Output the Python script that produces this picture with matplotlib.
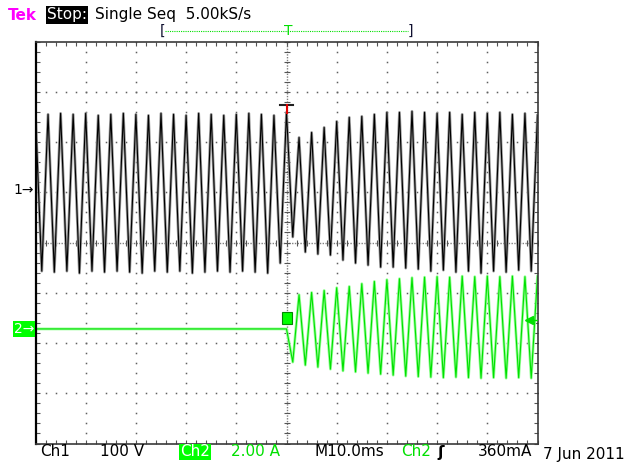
import matplotlib
matplotlib.use('Agg')
import matplotlib.pyplot as plt
import numpy as np

W, H = 641, 462

# ---- data ------------------------------------------------------------
# horizontal: M 10.0 ms/div, 10 divisions, trigger at 50 ms
half_period_ms = 1.25
trig_ms = 50.0

# Ch1, 100 V/div: crest values (V) at t = 0, 2.5, ... 100 ms
ch1_peaks_v = [150, 152, 154, 152, 154, 150, 152, 154, 152, 150,
               154, 152, 150, 154, 152, 150, 152, 154, 152, 150,
               156, 106, 116, 126, 138, 146, 148, 152, 156, 156,
               158, 156, 154, 156, 152, 156, 154, 156, 152, 154, 150]
# Ch1 trough values (V) at t = 1.25, 3.75, ... 98.75 ms
ch1_troughs_v = [-160, -162, -160, -164, -160, -162, -160, -162, -164, -160,
                 -162, -160, -164, -162, -160, -162, -160, -162, -164, -144,
                 -92, -122, -126, -128, -138, -144, -148, -152, -152, -154,
                 -156, -160, -158, -162, -160, -164, -160, -162, -158, -160]

# Ch2, 2.00 A/div: zero before the trigger, then growing
ch2_troughs_a = [-1.32, -1.44, -1.52, -1.60, -1.67, -1.71, -1.76, -1.80, -1.84, -1.88,
                 -1.90, -1.92, -1.94, -1.92, -1.94, -1.96, -1.94, -1.96, -1.94, -1.96]
ch2_peaks_a = [1.36, 1.45, 1.53, 1.64, 1.69, 1.80, 1.89, 1.96, 2.00, 2.04,
               2.06, 2.08, 2.06, 2.10, 2.08, 2.10, 2.08, 2.10, 2.08, 2.10]

ch1_scale, ch2_scale = 100.0, 2.0      # per division
ch1_pos, ch2_pos = 1.03, -1.72         # ground marker positions (div)
trig_level_a = 0.36

# ---- build the traces -------------------------------------------------
t1 = np.arange(len(ch1_peaks_v) + len(ch1_troughs_v)) * half_period_ms
v1 = np.empty(len(t1))
v1[0::2] = ch1_peaks_v
v1[1::2] = ch1_troughs_v

n2 = len(ch2_peaks_a) + len(ch2_troughs_a)
t2 = np.concatenate([[0.0, trig_ms], trig_ms + (np.arange(n2) + 1) * half_period_ms])
i2 = np.empty(n2)
i2[0::2] = ch2_troughs_a
i2[1::2] = ch2_peaks_a
i2 = np.concatenate([[0.0, 0.0], i2])

y1 = v1 / ch1_scale + ch1_pos
y2 = i2 / ch2_scale + ch2_pos

# ---- figure -----------------------------------------------------------
fig = plt.figure(figsize=(W / 100, H / 100), dpi=100)
fig.patch.set_facecolor('white')
ax = fig.add_axes([35.5 / W, (H - 443.5) / H, 502 / W, 402 / H])
ax.set_xlim(0, 100)
ax.set_ylim(-4, 4)

# graticule
minor_x = np.arange(0, 100.01, 2)
minor_y = np.arange(-4, 4.001, 0.2)
dot = dict(ls='none', marker='s', ms=1.1, mew=0, color='#606060', zorder=1)
for xd in range(10, 100, 10):
    if xd != 50:
        ax.plot(np.full(len(minor_y), xd), minor_y, **dot)
for yd in range(-3, 4):
    if yd != 0:
        ax.plot(minor_x, np.full(len(minor_x), yd), **dot)
ax.axhline(0, color='#808080', lw=1.0, ls=(0, (1, 1)), zorder=1)
ax.axvline(50, color='#808080', lw=1.0, ls=(0, (1, 1)), zorder=1)
ax.plot(minor_x, np.zeros(len(minor_x)), ls='none', marker='|', ms=4,
        mew=0.8, color='#555555', zorder=1)
ax.plot(np.full(len(minor_y), 50), minor_y, ls='none', marker='_', ms=4,
        mew=0.8, color='#555555', zorder=1)

ax.set_xticks(minor_x)
ax.set_yticks(minor_y)
ax.tick_params(direction='in', length=3, width=0.8, color='#555555',
               top=True, right=True, labelbottom=False, labelleft=False)
for side, sp in ax.spines.items():
    sp.set_color('#000000' if side == 'left' else '#3a3a3a')
    sp.set_linewidth(1.6 if side == 'left' else 1.2)
    sp.set_zorder(5)

# traces
ax.plot(t1, y1, color='#9a9a9a', lw=2.0, zorder=3)
ax.plot(t1, y1, color='#000000', lw=0.8, zorder=3)
ax.plot(t2, y2, color='#98ff98', lw=2.0, zorder=3)
ax.plot(t2, y2, color='#00e000', lw=0.8, zorder=3)

# trigger markers on the traces
ax.plot([48.8, 51.2], [2.74, 2.74], color='#202020', lw=1.5, zorder=4)
ax.plot([50, 50], [2.74, 2.58], color='#e00000', lw=1.5, zorder=4)
ax.add_patch(plt.Rectangle((49.2, ch2_pos + 0.1), 1.8, 0.24, facecolor='#00ff00',
                           edgecolor='#008800', lw=0.8, zorder=4))

# ---- text -------------------------------------------------------------
def ftext(x, y, s, **kw):
    kw.setdefault('fontsize', 11)
    kw.setdefault('va', 'center')
    kw.setdefault('ha', 'left')
    kw.setdefault('family', 'DejaVu Sans')
    return fig.text(x / W, 1 - y / H, s, **kw)

green = '#00e000'
ftext(8, 15, 'Tek', color='#ff00ff', fontweight='bold')
ftext(47, 15, 'Stop:', color='white',
      bbox=dict(facecolor='black', edgecolor='none', pad=0.8))
ftext(95, 15, 'Single Seq  5.00kS/s', color='black')

# record-position bracket
ftext(160, 31, '[', color='#101030', fontsize=10)
ftext(408, 31, ']', color='#101030', fontsize=10)
fig.add_artist(plt.Line2D([165 / W, 408 / W], [1 - 31 / H, 1 - 31 / H],
                          color=green, lw=0.8, ls=(0, (1, 1))))
ftext(288, 31, 'T', color=green, ha='center', fontsize=10)

# ground markers
ftext(13, 190, '1\u2192', color='black', fontsize=10)
ftext(14, 329, '2\u2192', color='white', fontsize=10,
      bbox=dict(facecolor='#00ff00', edgecolor='none', pad=0.6))
lvl = trig_level_a / ch2_scale + ch2_pos
ax.plot([98.4, 100], [lvl, lvl], color=green, lw=1.0, zorder=6)
ax.plot([98.4], [lvl], marker='<', ms=6, color=green, zorder=6)

# bottom status line
ftext(40, 452, 'Ch1', color='black')
ftext(100, 452, '100 V', color='black')
ftext(180, 452, 'Ch2', color='white',
      bbox=dict(facecolor='#00ff00', edgecolor='none', pad=0.6))
ftext(231, 452, '2.00 A', color=green)
ftext(314, 452, 'M10.0ms', color='black')
ftext(401, 452, 'Ch2', color=green)
ftext(437, 452, '\u0283', color='black', fontweight='bold')
ftext(478, 452, '360mA', color='black')
ftext(543, 455, '7 Jun 2011', color='black')

fig.savefig('out.png', dpi=100, facecolor='white')
